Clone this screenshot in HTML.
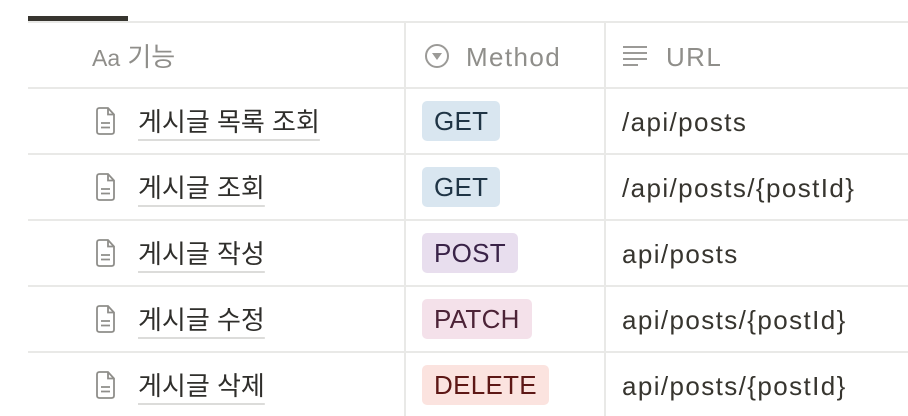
<!DOCTYPE html>
<html><head><meta charset="utf-8"><style>
body{margin:0;width:908px;height:416px;background:#fff;overflow:hidden;position:relative;font-family:"Liberation Sans","Noto Sans CJK KR",sans-serif;color:#37352f}
.h{position:absolute;left:28px;right:0;height:2px;background:#e9e9e7}
.v{position:absolute;width:2px;background:#e9e9e7;top:22px;bottom:0}
.t{position:absolute;font-size:26px;line-height:30px;white-space:nowrap}
.u{letter-spacing:1.4px}
.hd{color:#8f8e8a}
.name{text-decoration:underline;text-decoration-color:#dcdcda;text-underline-offset:8px;text-decoration-thickness:2px;color:#2f2e2b}
.pill{position:absolute;height:40px;border-radius:5px;font-size:26px;line-height:40px;padding:0 12px;box-sizing:border-box;letter-spacing:0.3px}
</style></head><body>
<div style="position:absolute;left:28px;top:16px;width:100px;height:5px;background:#37352f"></div>
<div class="h" style="top:21px"></div>
<div class="h" style="top:87px"></div>
<div class="h" style="top:153px"></div>
<div class="h" style="top:219px"></div>
<div class="h" style="top:285px"></div>
<div class="h" style="top:351px"></div>
<div class="v" style="left:404px"></div>
<div class="v" style="left:604px"></div>

<div class="t hd" style="left:92px;top:42px"><span style="font-size:23px">Aa</span> 기능</div>
<svg style="position:absolute;left:424px;top:43px" width="26" height="26"><circle cx="13" cy="13" r="11" fill="none" stroke="#9b9a97" stroke-width="2"/><path d="M8 10 L18 10 L13 17Z" fill="#9b9a97"/></svg>
<div class="t hd u" style="left:466px;top:42px">Method</div>
<svg style="position:absolute;left:622px;top:44px" width="26" height="24"><g stroke="#9b9a97" stroke-width="2"><line x1="1" y1="3" x2="25" y2="3"/><line x1="1" y1="9" x2="25" y2="9"/><line x1="1" y1="15" x2="25" y2="15"/><line x1="1" y1="21" x2="16" y2="21"/></g></svg>
<div class="t hd u" style="left:666px;top:42px">URL</div>

<svg style="position:absolute;left:0;top:0" width="908" height="416">
<defs><g id="d"><path d="M1 2.5 Q1 0 3.5 0 L12 0 L18 6.5 L18 23.5 Q18 26 15.5 26 L3.5 26 Q1 26 1 23.5Z M12 0 L12 6.5 L18 6.5 M5 15 L14 15 M5 19.5 L14 19.5" fill="none" stroke="#8f8e8a" stroke-width="1.8"/></g></defs>
<use href="#d" x="96" y="108"/><use href="#d" x="96" y="174"/><use href="#d" x="96" y="240"/><use href="#d" x="96" y="306"/><use href="#d" x="96" y="372"/>
</svg>
<div class="t name" style="left:138px;top:107px">게시글 목록 조회</div>
<div class="t name" style="left:138px;top:173px">게시글 조회</div>
<div class="t name" style="left:138px;top:239px">게시글 작성</div>
<div class="t name" style="left:138px;top:305px">게시글 수정</div>
<div class="t name" style="left:138px;top:371px">게시글 삭제</div>

<div class="pill" style="left:422px;top:101px;background:#d9e6f0;color:#1f3445">GET</div>
<div class="pill" style="left:422px;top:167px;background:#d9e6f0;color:#1f3445">GET</div>
<div class="pill" style="left:422px;top:233px;background:#e8deee;color:#3a2348">POST</div>
<div class="pill" style="left:422px;top:299px;background:#f4e1ea;color:#4c2337">PATCH</div>
<div class="pill" style="left:422px;top:365px;background:#fbe3df;color:#5d1715">DELETE</div>

<div class="t u" style="left:622px;top:107px">/api/posts</div>
<div class="t u" style="left:622px;top:173px">/api/posts/{postId}</div>
<div class="t u" style="left:622px;top:239px">api/posts</div>
<div class="t u" style="left:622px;top:305px">api/posts/{postId}</div>
<div class="t u" style="left:622px;top:371px">api/posts/{postId}</div>
</body></html>
